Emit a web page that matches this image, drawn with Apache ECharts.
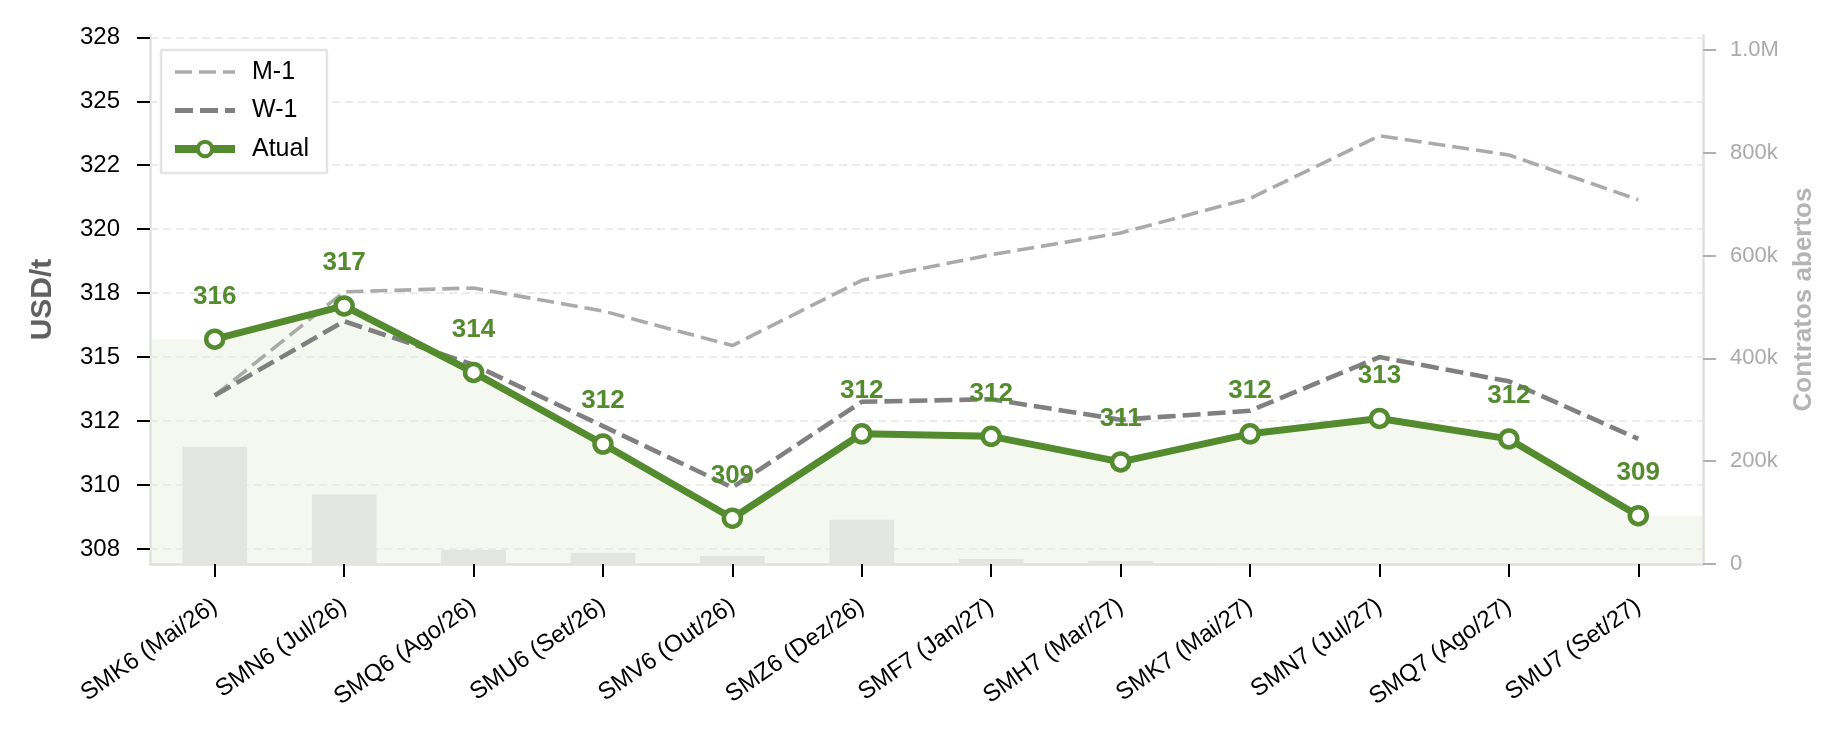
<!DOCTYPE html>
<html>
<head>
<meta charset="utf-8">
<script src="https://cdn.jsdelivr.net/npm/echarts@6/dist/echarts.min.js"></script>
<style>
html,body{margin:0;padding:0;background:#fff;}
#chart{width:1846px;height:734px;}
</style>
</head>
<body>
<div id="chart"></div>
<script>
// ---- data ----
var categories = ['SMK6 (Mai/26)','SMN6 (Jul/26)','SMQ6 (Ago/26)','SMU6 (Set/26)','SMV6 (Out/26)','SMZ6 (Dez/26)','SMF7 (Jan/27)','SMH7 (Mar/27)','SMK7 (Mai/27)','SMN7 (Jul/27)','SMQ7 (Ago/27)','SMU7 (Set/27)'];
var atual = [315.7, 317.0, 314.4, 311.6, 308.7, 312.0, 311.9, 310.9, 312.0, 312.6, 311.8, 308.8];
var w1 = [313.5, 316.4, 314.7, 312.3, 309.9, 313.25, 313.35, 312.55, 312.9, 315.0, 314.05, 311.8];
var m1 = [313.5, 317.55, 317.7, 316.8, 315.45, 318.0, 319.0, 319.85, 321.2, 323.65, 322.9, 321.15];
var openInterest = [228000, 135000, 27000, 22000, 15500, 86000, 9500, 6000, 1500, 1000, 500, 300];
var yTickValues = [307.5, 310, 312.5, 315, 317.5, 320, 322.5, 325, 327.5];
var yTickLabels = ['308','310','312','315','318','320','322','325','328'];
var y2TickValues = [0, 200000, 400000, 600000, 800000, 1000000];
var y2TickLabels = ['0','200k','400k','600k','800k','1.0M'];

var FONT = '"Liberation Sans", Arial, Helvetica, sans-serif';
var GREEN = '#548b2e';

var areaData = [[-0.5, atual[0]]].concat(atual.map(function(v,i){return [i,v];})).concat([[categories.length-0.5, atual[atual.length-1]]]);

var chart = echarts.init(document.getElementById('chart'), null, {renderer:'canvas'});
chart.setOption({
  animation: false,
  backgroundColor: '#ffffff',
  textStyle: {fontFamily: FONT},
  grid: {left: 150, right: 143, top: 35, bottom: 170, containLabel: false},
  legend: {
    left: 161, top: 50, orient: 'vertical',
    data: [
      {name: 'M-1', itemStyle: {opacity: 0}, lineStyle: {color: '#aaaaaa', width: 3.6, type: [17,7]}},
      {name: 'W-1', itemStyle: {opacity: 0}, lineStyle: {color: '#808080', width: 5, type: [18,7]}},
      {name: 'Atual', itemStyle: {color: '#ffffff', borderColor: GREEN, borderWidth: 4}, lineStyle: {color: GREEN, width: 8}}
    ],
    backgroundColor: '#ffffff', borderColor: '#e4e4e4', borderWidth: 2.5, borderRadius: 1,
    padding: [8, 18, 10, 10],
    itemWidth: 60, itemHeight: 18, itemGap: 10.5,
    textStyle: {fontSize: 25, color: '#000', fontFamily: FONT, padding: [0,0,0,12], lineHeight: 28}
  },
  xAxis: [{
    type: 'category', data: categories, boundaryGap: true,
    axisLine: {show: true, onZero: false, lineStyle: {color: '#e0e0e0', width: 2.5}},
    axisTick: {show: true, alignWithLabel: true, length: 13, lineStyle: {color: '#000', width: 2}},
    axisLabel: {rotate: 35, fontSize: 24, color: '#000', margin: 40, fontFamily: FONT},
    splitLine: {show: false}
  }, {
    type: 'value', min: -0.5, max: categories.length - 0.5, show: false
  }],
  yAxis: [{
    type: 'value', min: 306.91, max: 327.59, position: 'left',
    name: 'USD/t', nameLocation: 'middle', nameGap: 92, nameRotate: 90,
    nameTextStyle: {fontSize: 30, fontWeight: 'bold', color: '#606060', fontFamily: FONT},
    axisLine: {show: true, onZero: false, lineStyle: {color: '#e0e0e0', width: 2.5}},
    axisTick: {show: true, length: 13, lineStyle: {color: '#000', width: 2}, customValues: yTickValues},
    axisLabel: {fontSize: 24, color: '#000', margin: 30, fontFamily: FONT, customValues: yTickValues,
      formatter: function(v){ var i = yTickValues.indexOf(v); return i >= 0 ? yTickLabels[i] : ''; }},
    splitLine: {show: false}
  }, {
    type: 'value', min: 0, max: 1029000, position: 'right',
    name: 'Contratos abertos', nameLocation: 'middle', nameGap: 88, nameRotate: 90,
    nameTextStyle: {fontSize: 26, fontWeight: 'bold', color: '#b4b4b4', fontFamily: FONT},
    axisLine: {show: true, onZero: false, lineStyle: {color: '#e0e0e0', width: 2.5}},
    axisTick: {show: true, length: 13, lineStyle: {color: '#b0b0b0', width: 2}, customValues: y2TickValues},
    axisLabel: {fontSize: 22, color: '#aaaaaa', margin: 27, fontFamily: FONT, customValues: y2TickValues,
      formatter: function(v){ var i = y2TickValues.indexOf(v); return i >= 0 ? y2TickLabels[i] : ''; }},
    splitLine: {show: false}
  }],
  series: [{
    name: 'fill', type: 'line', xAxisIndex: 1, yAxisIndex: 0, z: 0,
    data: areaData, symbol: 'none', silent: true,
    lineStyle: {width: 0, opacity: 0},
    areaStyle: {color: '#f5f8f0', opacity: 1, origin: 'start'},
    markLine: {
      silent: true, z: 1, symbol: ['none','none'], label: {show: false},
      lineStyle: {type: [8,5], color: '#ebebeb', width: 2},
      emphasis: {disabled: true},
      data: yTickValues.map(function(v){ return {yAxis: v}; })
    }
  }, {
    name: 'OI', type: 'bar', xAxisIndex: 0, yAxisIndex: 1, z: 2,
    data: openInterest, barWidth: '50%', silent: true,
    itemStyle: {color: '#e3e5e0'}
  }, {
    name: 'M-1', type: 'line', xAxisIndex: 0, yAxisIndex: 0, z: 3,
    data: m1, symbol: 'none',
    lineStyle: {color: '#aaaaaa', width: 3.6, type: [17,7]},
    itemStyle: {color: '#aaaaaa'}
  }, {
    name: 'W-1', type: 'line', xAxisIndex: 0, yAxisIndex: 0, z: 4,
    data: w1, symbol: 'none',
    lineStyle: {color: '#808080', width: 4.6, type: [18,7]},
    itemStyle: {color: '#808080'}
  }, {
    name: 'Atual', type: 'line', xAxisIndex: 0, yAxisIndex: 0, z: 5,
    data: atual, symbol: 'circle', symbolSize: 17,
    lineStyle: {color: GREEN, width: 7},
    itemStyle: {color: '#ffffff', borderColor: GREEN, borderWidth: 4.5},
    label: {show: true, position: 'top', distance: 19, color: GREEN, fontWeight: 'bold', fontSize: 26, fontFamily: FONT,
      formatter: function(p){ return String(Math.round(p.value)); }}
  }]
});
</script>
</body>
</html>
